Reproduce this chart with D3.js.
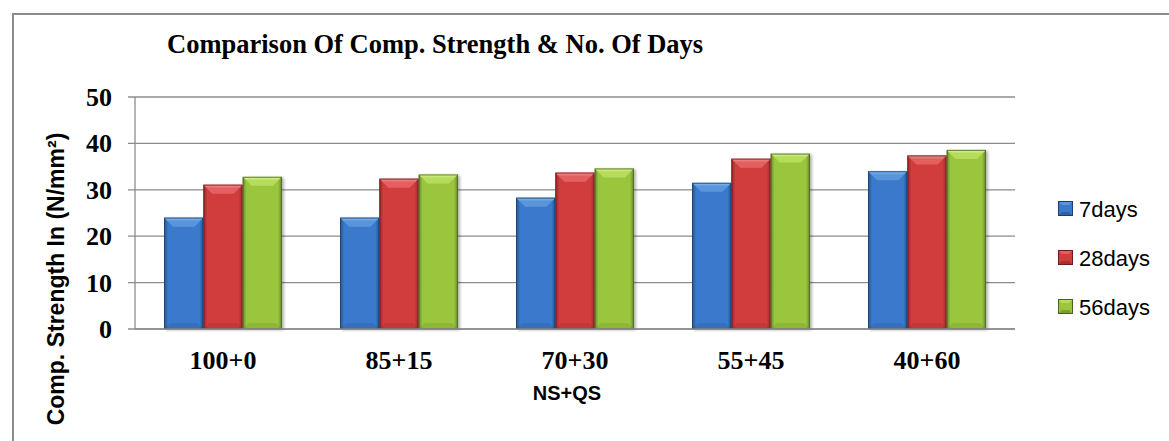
<!DOCTYPE html>
<html><head><meta charset="utf-8">
<script src="https://cdn.jsdelivr.net/npm/d3@7"></script>
<style>
html,body{margin:0;padding:0;background:#fff;}
svg{display:block;}
</style>
</head><body>
<script>
const categories = ["100+0","85+15","70+30","55+45","40+60"];
const seriesNames = ["7days","28days","56days"];
const days7  = [24.0, 24.0, 28.3, 31.5, 34.0];
const days28 = [31.1, 32.4, 33.7, 36.7, 37.4];
const days56 = [32.8, 33.3, 34.6, 37.8, 38.6];
const yTicks = [0,10,20,30,40,50];
const titleText = "Comparison Of Comp. Strength & No. Of Days";
const xTitle = "NS+QS";
const yTitle = "Comp. Strength In (N/mm²)";

const seriesValues = [days7, days28, days56];
const palette = [
  {main:"#3a79cb", light:"#8cc0f4", light2:"#5a95dc", dark:"#24548f", edge:"#1c3f70"},
  {main:"#d13c3c", light:"#f49a9a", light2:"#e46060", dark:"#982424", edge:"#6e1a1a"},
  {main:"#9bc53d", light:"#def7a0", light2:"#b6dc5c", dark:"#68892b", edge:"#4a6420"}
];

const W = 1169, H = 441;
const pLeft = 135, pRight = 1015, pTop = 97, pBottom = 329;

const svg = d3.select("body").append("svg").attr("width", W).attr("height", H);
const defs = svg.append("defs");

palette.forEach((p,i)=>{
  const g = defs.append("linearGradient").attr("id","hg"+i).attr("x1","0").attr("x2","1").attr("y1","0").attr("y2","0");
  [[0,p.dark],[0.1,p.main],[0.5,p.main],[0.9,p.main],[1,p.dark]].forEach(s=>g.append("stop").attr("offset",s[0]).attr("stop-color",s[1]));
  const t = defs.append("linearGradient").attr("id","tg"+i).attr("x1","0").attr("x2","0").attr("y1","0").attr("y2","1");
  [[0,p.light],[0.4,p.light2],[1,p.light2]].forEach(s=>t.append("stop").attr("offset",s[0]).attr("stop-color",s[1]));
});
const f = defs.append("filter").attr("id","sh").attr("x","-20%").attr("y","-20%").attr("width","140%").attr("height","140%");
f.append("feGaussianBlur").attr("stdDeviation",1.5);

// outer border
svg.append("path").attr("d",`M13,${H+5} V14 H${W+5}`).attr("fill","none").attr("stroke","#8c8c8c").attr("stroke-width",2);

const y = d3.scaleLinear().domain([0,50]).range([pBottom, pTop]);
const x0 = d3.scaleBand().domain(categories).range([pLeft,pRight]).paddingInner(0.33).paddingOuter(0.165);
const x1 = d3.scaleBand().domain(seriesNames).range([0, x0.bandwidth()]);

// gridlines
svg.append("g").selectAll("line").data(yTicks).join("line")
  .attr("x1", pLeft-7).attr("x2", pRight).attr("y1", d=>y(d)).attr("y2", d=>y(d))
  .attr("stroke","#8c8c8c").attr("stroke-width",1.3);
// y axis line
svg.append("line").attr("x1",pLeft).attr("x2",pLeft).attr("y1",pTop).attr("y2",pBottom).attr("stroke","#8c8c8c").attr("stroke-width",1.3);

// y tick labels
svg.append("g").selectAll("text").data(yTicks).join("text")
  .attr("x", 112).attr("y", d=>y(d)+9).attr("text-anchor","end")
  .attr("font-family","'Liberation Serif', serif").attr("font-weight","bold").attr("font-size",26)
  .text(d=>d);

// bars
const b = 9;
categories.forEach((c,ci)=>{
  seriesNames.forEach((s,si)=>{
    const v = seriesValues[si][ci];
    const bx = x0(c) + x1(s), bw = x1.bandwidth(), by = y(v), bh = y(0) - y(v);
    const p = palette[si];
    const g = svg.append("g");
    g.append("rect").attr("x",bx+2).attr("y",by+1).attr("width",bw).attr("height",bh).attr("fill","#000").attr("opacity",0.3).attr("filter","url(#sh)");
    g.append("rect").attr("x",bx).attr("y",by).attr("width",bw).attr("height",bh).attr("fill",`url(#hg${si})`);
    g.append("polygon").attr("points",`${bx},${by} ${bx+bw},${by} ${bx+bw-b},${by+b} ${bx+b},${by+b}`).attr("fill",`url(#tg${si})`);
    g.append("polygon").attr("points",`${bx},${by+bh} ${bx+bw},${by+bh} ${bx+bw-6},${by+bh-6} ${bx+6},${by+bh-6}`).attr("fill","#000").attr("opacity",0.07);
    g.append("rect").attr("x",bx+0.5).attr("y",by+0.5).attr("width",bw-1).attr("height",bh-1).attr("fill","none").attr("stroke",p.edge).attr("stroke-width",1).attr("opacity",0.8);
  });
});

// x axis line on top of bars
svg.append("line").attr("x1",pLeft).attr("x2",pRight).attr("y1",pBottom).attr("y2",pBottom).attr("stroke","#8c8c8c").attr("stroke-width",1.5);

// x tick labels
svg.append("g").selectAll("text").data(categories).join("text")
  .attr("x", d=>x0(d)+x0.bandwidth()/2).attr("y", 369).attr("text-anchor","middle")
  .attr("font-family","'Liberation Serif', serif").attr("font-weight","bold").attr("font-size",26)
  .text(d=>d);

// title
svg.append("text").attr("x",167).attr("y",53)
  .attr("font-family","'Liberation Serif', serif").attr("font-weight","bold").attr("font-size",26.5)
  .text(titleText);

// x title
svg.append("text").attr("x",567).attr("y",400).attr("text-anchor","middle")
  .attr("font-family","'Liberation Sans', Arial, sans-serif").attr("font-weight","bold").attr("font-size",20)
  .text(xTitle);

// y title
svg.append("text").attr("transform",`translate(64,279) rotate(-90)`).attr("text-anchor","middle")
  .attr("font-family","'Liberation Sans', Arial, sans-serif").attr("font-weight","bold").attr("font-size",23)
  .text(yTitle);

// legend
const legY = [201, 250, 299];
seriesNames.forEach((s,si)=>{
  const p = palette[si];
  const lx = 1058, ly = legY[si], sz = 15, lb = 4;
  const g = svg.append("g");
  g.append("rect").attr("x",lx).attr("y",ly).attr("width",sz).attr("height",sz).attr("fill",`url(#hg${si})`);
  g.append("polygon").attr("points",`${lx},${ly} ${lx+sz},${ly} ${lx+sz-lb},${ly+lb} ${lx+lb},${ly+lb}`).attr("fill",p.light2);
  g.append("polygon").attr("points",`${lx},${ly+sz} ${lx+sz},${ly+sz} ${lx+sz-lb},${ly+sz-lb} ${lx+lb},${ly+sz-lb}`).attr("fill","#000").attr("opacity",0.2);
  g.append("rect").attr("x",lx+0.5).attr("y",ly+0.5).attr("width",sz-1).attr("height",sz-1).attr("fill","none").attr("stroke",p.edge).attr("stroke-width",1);
  g.append("text").attr("x",1079).attr("y",ly+16)
    .attr("font-family","'Liberation Sans', Arial, sans-serif").attr("font-size",22)
    .text(s);
});
</script>
</body></html>
